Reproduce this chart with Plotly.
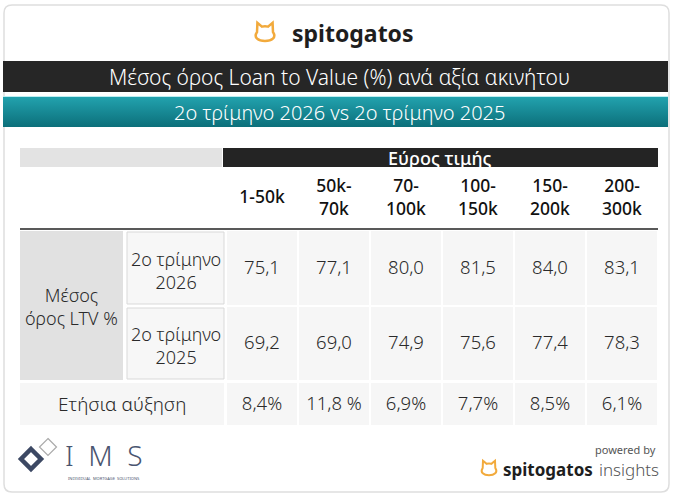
import plotly.graph_objects as go

# Table data
price_ranges = ["1-50k", "50k-<br>70k", "70-<br>100k", "100-<br>150k", "150-<br>200k", "200-<br>300k"]
ltv_q2_2026 = [75.1, 77.1, 80.0, 81.5, 84.0, 83.1]
ltv_q2_2025 = [69.2, 69.0, 74.9, 75.6, 77.4, 78.3]
annual_growth = ["8,4%", "11,8 %", "6,9%", "7,7%", "8,5%", "6,1%"]
row_labels = ["2ο τρίμηνο<br>2026", "2ο τρίμηνο<br>2025"]

title = "Μέσος όρος Loan to Value (%) ανά αξία ακινήτου"
subtitle = "2ο τρίμηνο 2026 vs 2ο τρίμηνο 2025"
group_label = "Εύρος τιμής"
left_label = "Μέσος<br>όρος LTV %"
growth_label = "Ετήσια αύξηση"

FONT = "Noto Sans"
W, H = 680, 498

# geometry (pixel-like axis units)
X0, COLW = 226, 72
ROWS = [(231, 305), (307, 380), (383, 425)]


def fmt(v):
    return f"{v:.1f}".replace(".", ",")


def col_center(i):
    return X0 + i * COLW + COLW / 2


def rounded_rect(x0, y0, x1, y1, r):
    return (f"M {x0+r},{y0} L {x1-r},{y0} Q {x1},{y0} {x1},{y0+r} "
            f"L {x1},{y1-r} Q {x1},{y1} {x1-r},{y1} L {x0+r},{y1} "
            f"Q {x0},{y1} {x0},{y1-r} L {x0},{y0+r} Q {x0},{y0} {x0+r},{y0} Z")


def cat_path(cx, cy, s):
    p = lambda x, y: f"{cx + x*s},{cy + y*s}"
    return (f"M {p(-0.42, 0.0)} L {p(-0.4, -0.48)} L {p(-0.16, -0.28)} Q {p(0, -0.33)} {p(0.16, -0.28)} "
            f"L {p(0.4, -0.48)} L {p(0.42, 0.0)} C {p(0.62, 0.3)} {p(0.35, 0.48)} {p(0, 0.48)} "
            f"C {p(-0.35, 0.48)} {p(-0.62, 0.3)} {p(-0.42, 0.0)} Z")


def diamond(cx, cy, h):
    return f"M {cx},{cy-h} L {cx+h},{cy} L {cx},{cy+h} L {cx-h},{cy} Z"


fig = go.Figure()
shapes = []
ann = []

# card
shapes.append(dict(type="path", path=rounded_rect(4, 5, 669, 492, 8),
                   line=dict(color="#dedede", width=1.5), fillcolor="white", layer="below"))

# title bands
shapes.append(dict(type="rect", x0=3, x1=668, y0=61, y1=92, fillcolor="#262626", line_width=0, layer="below"))
shapes.append(dict(type="line", x0=3, x1=668, y0=96.5, y1=96.5, line=dict(color="#bdeef2", width=1)))
fig.add_trace(go.Scatter(x=[3, 668, 668, 3, 3], y=[97, 97, 127, 127, 97], mode="lines", fill="toself",
                         line=dict(width=0), hoverinfo="skip",
                         fillgradient=dict(type="vertical",
                                           colorscale=[[0, "#0c6f7a"], [1, "#22a2ae"]])))
ann.append(dict(x=339, y=76.5, text=title, font=dict(family=FONT, size=21, color="white", weight=300)))
ann.append(dict(x=339, y=112, text=subtitle, font=dict(family=FONT, size=20, color="white", weight=300)))

# logo
shapes.append(dict(type="path", path=cat_path(265, 32, 19), line=dict(color="#f2aa3c", width=2.5)))
ann.append(dict(x=353, y=33, text="<b>spitogatos</b>", font=dict(family=FONT, size=23, color="#1e1e1e")))

# header
shapes.append(dict(type="rect", x0=20, x1=222, y0=148, y1=167, fillcolor="#e3e3e3", line_width=0))
shapes.append(dict(type="rect", x0=223, x1=658, y0=148, y1=167, fillcolor="#242424", line_width=0))
ann.append(dict(x=440, y=157.5, text=group_label, font=dict(family=FONT, size=18, color="white", weight=500)))
fig.add_trace(go.Scatter(x=[col_center(i) for i in range(len(price_ranges))], y=[199] * len(price_ranges),
                         mode="text", text=price_ranges, hoverinfo="skip",
                         textfont=dict(family=FONT, size=17.5, color="#111111", weight=500)))
shapes.append(dict(type="line", x0=20, x1=658, y0=229, y1=229, line=dict(color="#222222", width=1.5)))

# left labels
shapes.append(dict(type="rect", x0=20, x1=123, y0=ROWS[0][0], y1=ROWS[1][1], fillcolor="#e1e1e1", line_width=0))
ann.append(dict(x=71, y=306, text=left_label, font=dict(family=FONT, size=18, color="#2a2a2a", weight=300)))
for r, lab in enumerate(row_labels):
    y0, y1 = ROWS[r]
    shapes.append(dict(type="rect", x0=127, x1=224, y0=y0 + 1, y1=y1 - 1, fillcolor="#f7f7f7",
                       line=dict(color="#d9d9d9", width=1)))
    ann.append(dict(x=175.5, y=(y0 + y1) / 2 + 2, text=lab,
                    font=dict(family=FONT, size=18, color="#2a2a2a", weight=300)))
shapes.append(dict(type="rect", x0=20, x1=224, y0=ROWS[2][0], y1=ROWS[2][1], fillcolor="#f6f6f6", line_width=0))
ann.append(dict(x=122, y=(ROWS[2][0] + ROWS[2][1]) / 2, text=growth_label,
                font=dict(family=FONT, size=19, color="#2a2a2a", weight=300)))

# data cells
for r in range(3):
    y0, y1 = ROWS[r]
    for i in range(len(price_ranges)):
        shapes.append(dict(type="rect", x0=X0 + i * COLW + 1, x1=X0 + (i + 1) * COLW - 1, y0=y0, y1=y1,
                           fillcolor="#f6f6f6", line_width=0, layer="below"))

row_texts = [[fmt(v) for v in ltv_q2_2026], [fmt(v) for v in ltv_q2_2025], annual_growth]
for r, texts in enumerate(row_texts):
    y0, y1 = ROWS[r]
    fig.add_trace(go.Scatter(x=[col_center(i) for i in range(len(texts))], y=[(y0 + y1) / 2 + 1] * len(texts),
                             mode="text", text=texts, hoverinfo="skip",
                             textfont=dict(family=FONT, size=18.5, color="#2a2a2a", weight=300)))

# IMS logo
shapes.append(dict(type="path", path=diamond(48, 447, 8.5), line=dict(color="#aaaaaa", width=1.2), fillcolor="white"))
shapes.append(dict(type="path", path=diamond(31, 459, 10), line=dict(color="#3c4863", width=4.5)))
ann.append(dict(x=104, y=455, text="I  M  S", font=dict(family=FONT, size=28, color="#4a5570", weight=300)))
ann.append(dict(x=104, y=478, text="INDIVIDUAL  MORTGAGE  SOLUTIONS",
                font=dict(family=FONT, size=4, color="#4a5570")))

# powered by
ann.append(dict(x=658, y=449, text="powered by", xanchor="right", font=dict(family=FONT, size=11, color="#555555")))
ann.append(dict(x=595, y=469, text="<b>spitogatos</b>", xanchor="right",
                font=dict(family=FONT, size=17, color="#1e1e1e")))
ann.append(dict(x=597, y=469, text="insights", xanchor="left",
                font=dict(family=FONT, size=17, color="#555555", weight=300)))
shapes.append(dict(type="path", path=cat_path(489, 468, 15), line=dict(color="#f2aa3c", width=2)))

for a in ann:
    a.update(xref="x", yref="y", showarrow=False)

fig.update_layout(
    width=W, height=H, margin=dict(l=0, r=0, t=0, b=0),
    paper_bgcolor="white", plot_bgcolor="white", showlegend=False,
    xaxis=dict(range=[0, W], visible=False, fixedrange=True),
    yaxis=dict(range=[H, 0], visible=False, fixedrange=True),
    shapes=shapes, annotations=ann,
)

fig.write_html("out.html", config={"displayModeBar": False},
               post_script="document.body.style.margin='0';")
